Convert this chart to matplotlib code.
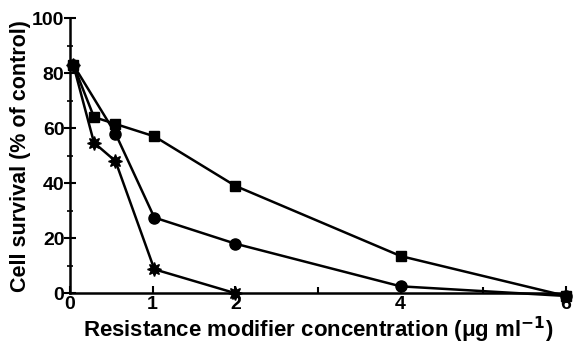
import matplotlib.pyplot as plt
from matplotlib.ticker import FixedLocator, MultipleLocator

plt.rcParams['font.family'] = ['Liberation Sans', 'DejaVu Sans']
plt.rcParams['font.weight'] = 'bold'
plt.rcParams['axes.labelweight'] = 'bold'
plt.rcParams['mathtext.default'] = 'bf'

# data
x_sq = [0.04, 0.29, 0.55, 1.02, 2.0, 4.0, 6.0]
y_sq = [83, 64, 61.5, 57, 39, 13.5, -1]

x_ci = [0.04, 0.55, 1.02, 2.0, 4.0, 6.0]
y_ci = [83, 58, 27.5, 18, 2.5, -1]

x_st = [0.04, 0.29, 0.55, 1.02, 2.0]
y_st = [83, 54.7, 48, 8.7, 0]

fig = plt.figure(figsize=(5.74, 3.47), dpi=100)
ax = fig.add_axes([0.122, 0.155, 0.864, 0.793])

ax.plot(x_sq, y_sq, color='black', lw=1.8, marker='s', ms=7, clip_on=False, zorder=3)
ax.plot(x_ci, y_ci, color='black', lw=1.8, marker='o', ms=8, clip_on=False, zorder=3)
ax.plot(x_st, y_st, color='black', lw=1.8, marker=(8, 1, 0), ms=10, clip_on=False, zorder=3)

ax.set_xlim(0, 6)
ax.set_ylim(0, 100)
ax.set_xticks([0, 1, 2, 4, 6])
ax.xaxis.set_minor_locator(FixedLocator([3, 5]))
ax.set_yticks([0, 20, 40, 60, 80, 100])
ax.yaxis.set_minor_locator(MultipleLocator(10))
ax.xaxis.set_zorder(4)  # keep the "6" label visible over the end markers

for s in ['top', 'right']:
    ax.spines[s].set_visible(False)
for s in ['left', 'bottom']:
    ax.spines[s].set_linewidth(1.8)

ax.tick_params(axis='x', direction='in', length=5, width=1.5, labelsize=14, pad=2)
ax.tick_params(axis='x', which='minor', direction='in', length=4, width=1.5)
ax.tick_params(axis='y', direction='inout', length=8, width=1.5, labelsize=14, pad=0)
ax.tick_params(axis='y', which='minor', direction='inout', length=4, width=1.2)

ax.set_xlabel('Resistance modifier concentration (μg ml$^{-1}$)', fontsize=16, labelpad=1)
ax.set_ylabel('Cell survival (% of control)', fontsize=15.5, labelpad=1)

fig.savefig('out.png', dpi=100)
